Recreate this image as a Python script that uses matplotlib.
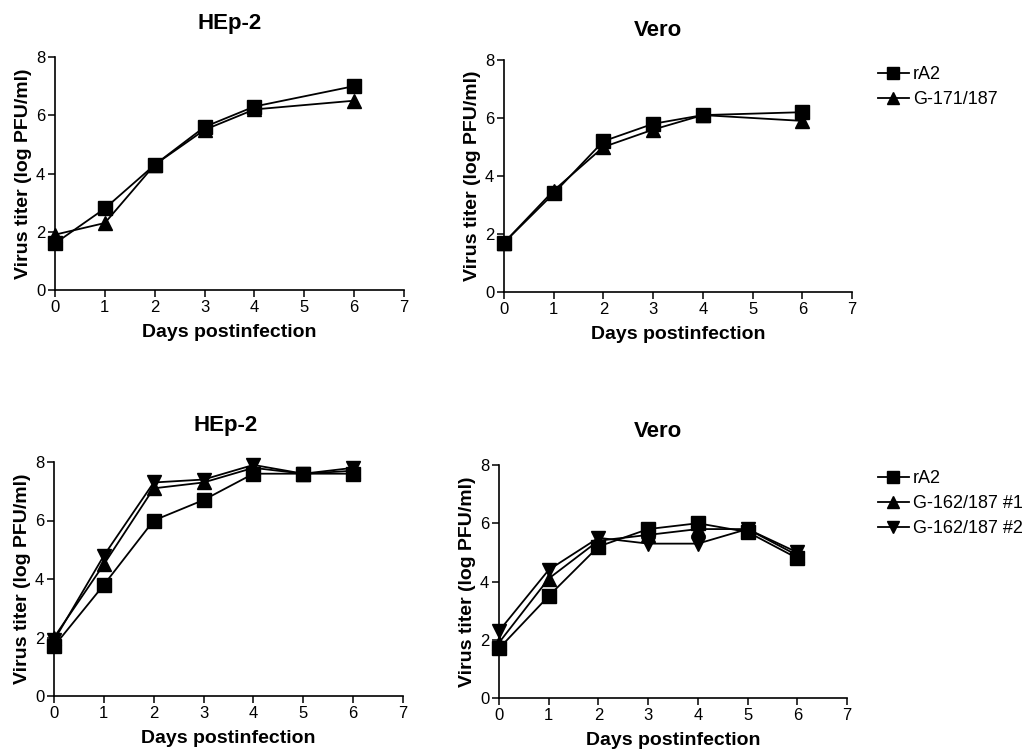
import numpy as np
import matplotlib
matplotlib.use('Agg')
from matplotlib import pyplot as plt

plt.rcParams['font.family'] = ['Liberation Sans', 'DejaVu Sans']

# data
days_a = [0, 1, 2, 3, 4, 6]
days_b = [0, 1, 2, 3, 4, 5, 6]

hep_top_rA2 = [1.6, 2.8, 4.3, 5.6, 6.3, 7.0]
hep_top_G171 = [1.9, 2.3, 4.3, 5.5, 6.2, 6.5]
vero_top_rA2 = [1.7, 3.4, 5.2, 5.8, 6.1, 6.2]
vero_top_G171 = [1.7, 3.5, 5.0, 5.6, 6.1, 5.9]

hep_bot_rA2 = [1.7, 3.8, 6.0, 6.7, 7.6, 7.6, 7.6]
hep_bot_G1 = [2.0, 4.5, 7.1, 7.3, 7.8, 7.6, 7.7]
hep_bot_G2 = [1.9, 4.8, 7.3, 7.4, 7.9, 7.6, 7.8]
vero_bot_rA2 = [1.7, 3.5, 5.2, 5.8, 6.0, 5.7, 4.8]
vero_bot_G1 = [1.9, 4.1, 5.4, 5.6, 5.8, 5.8, 4.9]
vero_bot_G2 = [2.3, 4.4, 5.5, 5.3, 5.3, 5.8, 5.0]

W, H = 1032, 750
fig = plt.figure(figsize=(W / 100, H / 100), dpi=100)


def pix_axes(l, t, r, b):
    return fig.add_axes([l / W, 1 - b / H, (r - l) / W, (b - t) / H])


def style(ax):
    ax.set_xlim(0, 7)
    ax.set_ylim(0, 8)
    ax.set_xticks(range(8))
    ax.set_yticks([0, 2, 4, 6, 8])
    for s in ['top', 'right']:
        ax.spines[s].set_visible(False)
    for s in ['left', 'bottom']:
        ax.spines[s].set_linewidth(1.2)
    ax.tick_params(direction='out', length=5, width=1.1, labelsize=12, pad=2)
    ax.set_ylabel('Virus titer (log PFU/ml)', fontsize=14, fontweight='bold', labelpad=3)
    ax.set_xlabel('Days postinfection', fontsize=14, fontweight='bold', labelpad=7)


def legend(ax, top):
    ax.legend(loc='upper left', bbox_to_anchor=(878 / W, 1 - top / H), bbox_transform=fig.transFigure,
              frameon=False, fontsize=13, markerscale=0.8, handlelength=1.7, handletextpad=0.25,
              labelspacing=0.45, borderaxespad=0, borderpad=0)


kw = dict(color='black', lw=1.3, clip_on=False)

ax1 = pix_axes(55, 57, 404, 290)
ax1.plot(days_a, hep_top_rA2, marker='s', ms=10, label='rA2', **kw)
ax1.plot(days_a, hep_top_G171, marker='^', ms=10, label='G-171/187', **kw)
style(ax1)

ax2 = pix_axes(504, 60, 852, 292)
ax2.plot(days_a, vero_top_rA2, marker='s', ms=10, label='rA2', **kw)
ax2.plot(days_a, vero_top_G171, marker='^', ms=10, label='G-171/187', **kw)
style(ax2)
legend(ax2, 66)

ax3 = pix_axes(54, 462, 403, 696)
ax3.plot(days_b, hep_bot_rA2, marker='s', ms=10, label='rA2', **kw)
ax3.plot(days_b, hep_bot_G1, marker='^', ms=10, label='G-162/187 #1', **kw)
ax3.plot(days_b, hep_bot_G2, marker='v', ms=10, label='G-162/187 #2', **kw)
style(ax3)

ax4 = pix_axes(499, 465, 847, 698)
ax4.plot(days_b, vero_bot_rA2, marker='s', ms=10, label='rA2', **kw)
ax4.plot(days_b, vero_bot_G1, marker='^', ms=10, label='G-162/187 #1', **kw)
ax4.plot(days_b, vero_bot_G2, marker='v', ms=10, label='G-162/187 #2', **kw)
style(ax4)
legend(ax4, 470)

fig.text(230 / W, 1 - 23 / H, 'HEp-2', ha='center', va='center', fontsize=16, fontweight='bold')
fig.text(658 / W, 1 - 30 / H, 'Vero', ha='center', va='center', fontsize=16, fontweight='bold')
fig.text(226 / W, 1 - 425 / H, 'HEp-2', ha='center', va='center', fontsize=16, fontweight='bold')
fig.text(658 / W, 1 - 432 / H, 'Vero', ha='center', va='center', fontsize=16, fontweight='bold')

fig.savefig('out.png', dpi=100)
